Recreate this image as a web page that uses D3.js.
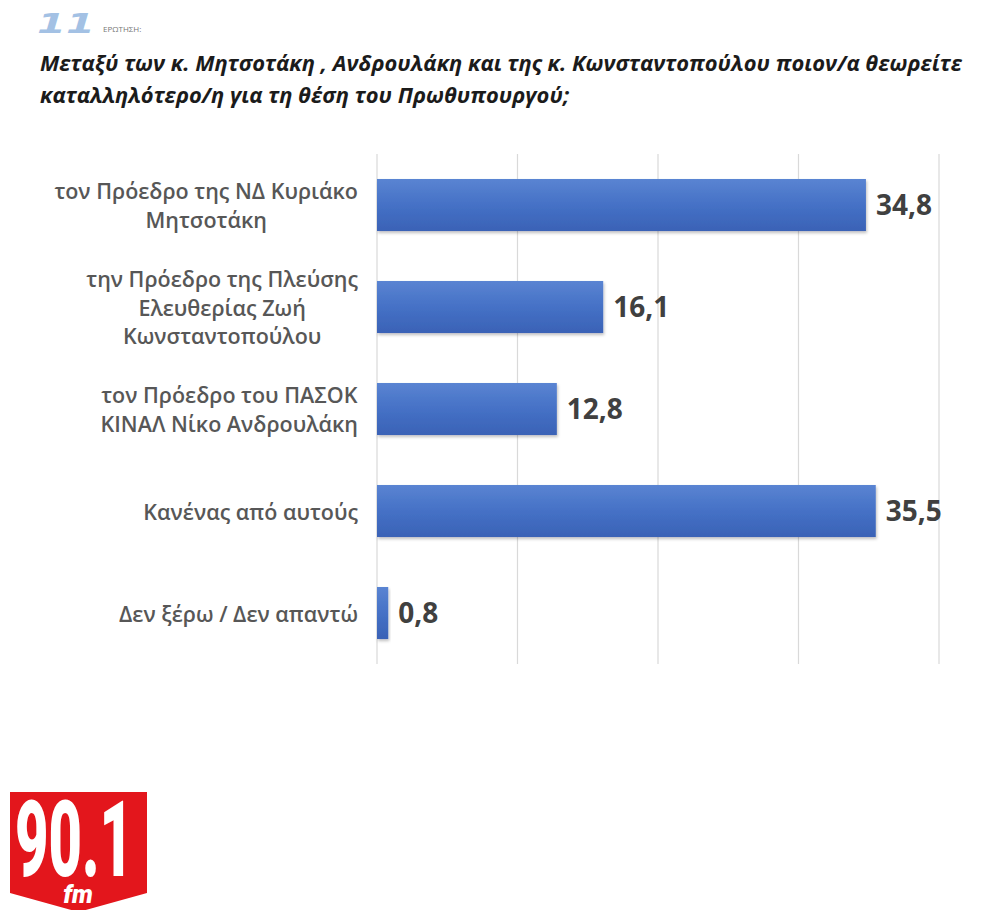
<!DOCTYPE html>
<html>
<head>
<meta charset="utf-8">
<script src="https://cdn.jsdelivr.net/npm/d3@7"></script>
<style>
  html, body { margin: 0; padding: 0; background: #ffffff; }
  svg { display: block; }
</style>
</head>
<body>
<svg id="chart" width="990" height="910"></svg>
<script>
// ---- data ----
const categories = [
  ["τον Πρόεδρο της ΝΔ Κυριάκο", "Μητσοτάκη"],
  ["την Πρόεδρο της Πλεύσης", "Ελευθερίας Ζωή", "Κωνσταντοπούλου"],
  ["τον Πρόεδρο του ΠΑΣΟΚ", "ΚΙΝΑΛ Νίκο Ανδρουλάκη"],
  ["Κανένας από αυτούς"],
  ["Δεν ξέρω / Δεν απαντώ"]
];
const values = [34.8, 16.1, 12.8, 35.5, 0.8];
const xTicks = [0, 10, 20, 30, 40];
const titleLines = [
  "Μεταξύ των κ. Μητσοτάκη , Ανδρουλάκη και της κ. Κωνσταντοπούλου ποιον/α θεωρείτε",
  "καταλληλότερο/η για τη θέση του Πρωθυπουργού;"
];
const questionNumber = "11";
const questionLabel = "ΕΡΩΤΗΣΗ:";

// ---- setup ----
const svg = d3.select("#chart");
const keys = categories.map((c, i) => "c" + i);

const x = d3.scaleLinear().domain([0, 40]).range([377, 939]);
const y = d3.scaleBand().domain(keys).range([154, 664]).paddingInner(0.49).paddingOuter(0.245);

const defs = svg.append("defs");
const grad = defs.append("linearGradient").attr("id", "barGrad")
  .attr("x1", 0).attr("y1", 0).attr("x2", 0).attr("y2", 1);
grad.append("stop").attr("offset", "0%").attr("stop-color", "#5a84d2");
grad.append("stop").attr("offset", "50%").attr("stop-color", "#4571c6");
grad.append("stop").attr("offset", "100%").attr("stop-color", "#3a62b6");
const sh = defs.append("filter").attr("id", "shadow")
  .attr("x", "-10%").attr("y", "-20%").attr("width", "130%").attr("height", "150%");
sh.append("feDropShadow").attr("dx", 1).attr("dy", 2).attr("stdDeviation", 1.5)
  .attr("flood-color", "#000").attr("flood-opacity", 0.25);

// ---- header ----
svg.append("text")
  .attr("x", 37).attr("y", 33)
  .attr("font-family", "DejaVu Sans").attr("font-weight", 700).attr("font-style", "italic")
  .attr("font-size", 27).attr("fill", "#a3c1e4")
  .attr("textLength", 58).attr("lengthAdjust", "spacingAndGlyphs")
  .text(questionNumber);
svg.append("text")
  .attr("x", 103).attr("y", 32)
  .attr("font-family", "Open Sans").attr("font-size", 8).attr("fill", "#777")
  .text(questionLabel);

const tl = svg.append("g").attr("font-family", "Open Sans").attr("font-weight", 700)
  .attr("font-style", "italic").attr("font-size", 21).attr("fill", "#1b1b1b");
const t1 = tl.append("text").attr("x", 40).attr("y", 71).text(titleLines[0]);
const w1 = t1.node().getComputedTextLength();
const ratio = 922 / w1;
t1.attr("textLength", 922).attr("lengthAdjust", "spacingAndGlyphs");
const t2 = tl.append("text").attr("x", 40).attr("y", 103).text(titleLines[1]);
const w2 = t2.node().getComputedTextLength();
t2.attr("textLength", w2 * ratio).attr("lengthAdjust", "spacingAndGlyphs");

// ---- grid ----
svg.append("g").selectAll("line").data(xTicks).join("line")
  .attr("x1", d => x(d)).attr("x2", d => x(d))
  .attr("y1", 154).attr("y2", 664)
  .attr("stroke", "#d9d9d9").attr("stroke-width", 1.2);

// ---- bars ----
svg.append("g").selectAll("rect").data(values).join("rect")
  .attr("x", x(0))
  .attr("y", (d, i) => y(keys[i]))
  .attr("width", d => x(d) - x(0))
  .attr("height", y.bandwidth())
  .attr("fill", "url(#barGrad)")
  .attr("filter", "url(#shadow)");

// ---- value labels ----
svg.append("g").selectAll("text").data(values).join("text")
  .attr("x", d => x(d) + 10)
  .attr("y", (d, i) => y(keys[i]) + y.bandwidth() / 2 + 10)
  .attr("font-family", "Open Sans").attr("font-weight", 700).attr("font-size", 28)
  .attr("fill", "#404040")
  .text(d => d.toFixed(1).replace(".", ","));

// ---- category labels ----
const lineH = 28.5;
const rightEdge = 358;
const catG = svg.append("g").attr("font-family", "Open Sans").attr("font-weight", 600)
  .attr("font-size", 21.5).attr("fill", "#575757");
categories.forEach((lines, i) => {
  const cy = y(keys[i]) + y.bandwidth() / 2 + 1.5;
  const g = catG.append("g");
  const texts = lines.map((ln, j) => g.append("text")
    .attr("y", cy + (j - (lines.length - 1) / 2) * lineH + 7)
    .attr("text-anchor", "middle").text(ln));
  const maxW = d3.max(texts, t => t.node().getComputedTextLength());
  texts.forEach(t => t.attr("x", rightEdge - maxW / 2));
});

// ---- logo ----
const logo = svg.append("g");
logo.append("path")
  .attr("d", "M10,792 L147,792 L147,893 L78.5,912 L10,893 Z")
  .attr("fill", "#e3161c");
logo.append("text")
  .attr("x", 15).attr("y", 876)
  .attr("font-family", "Roboto").attr("font-weight", 900).attr("font-size", 106)
  .attr("fill", "#ffffff")
  .attr("textLength", 118).attr("lengthAdjust", "spacingAndGlyphs")
  .text("90.1");
logo.append("text")
  .attr("x", 78).attr("y", 903).attr("text-anchor", "middle")
  .attr("font-family", "Roboto").attr("font-weight", 900).attr("font-style", "italic")
  .attr("font-size", 25).attr("fill", "#ffffff")
  .text("fm");
</script>
</body>
</html>
